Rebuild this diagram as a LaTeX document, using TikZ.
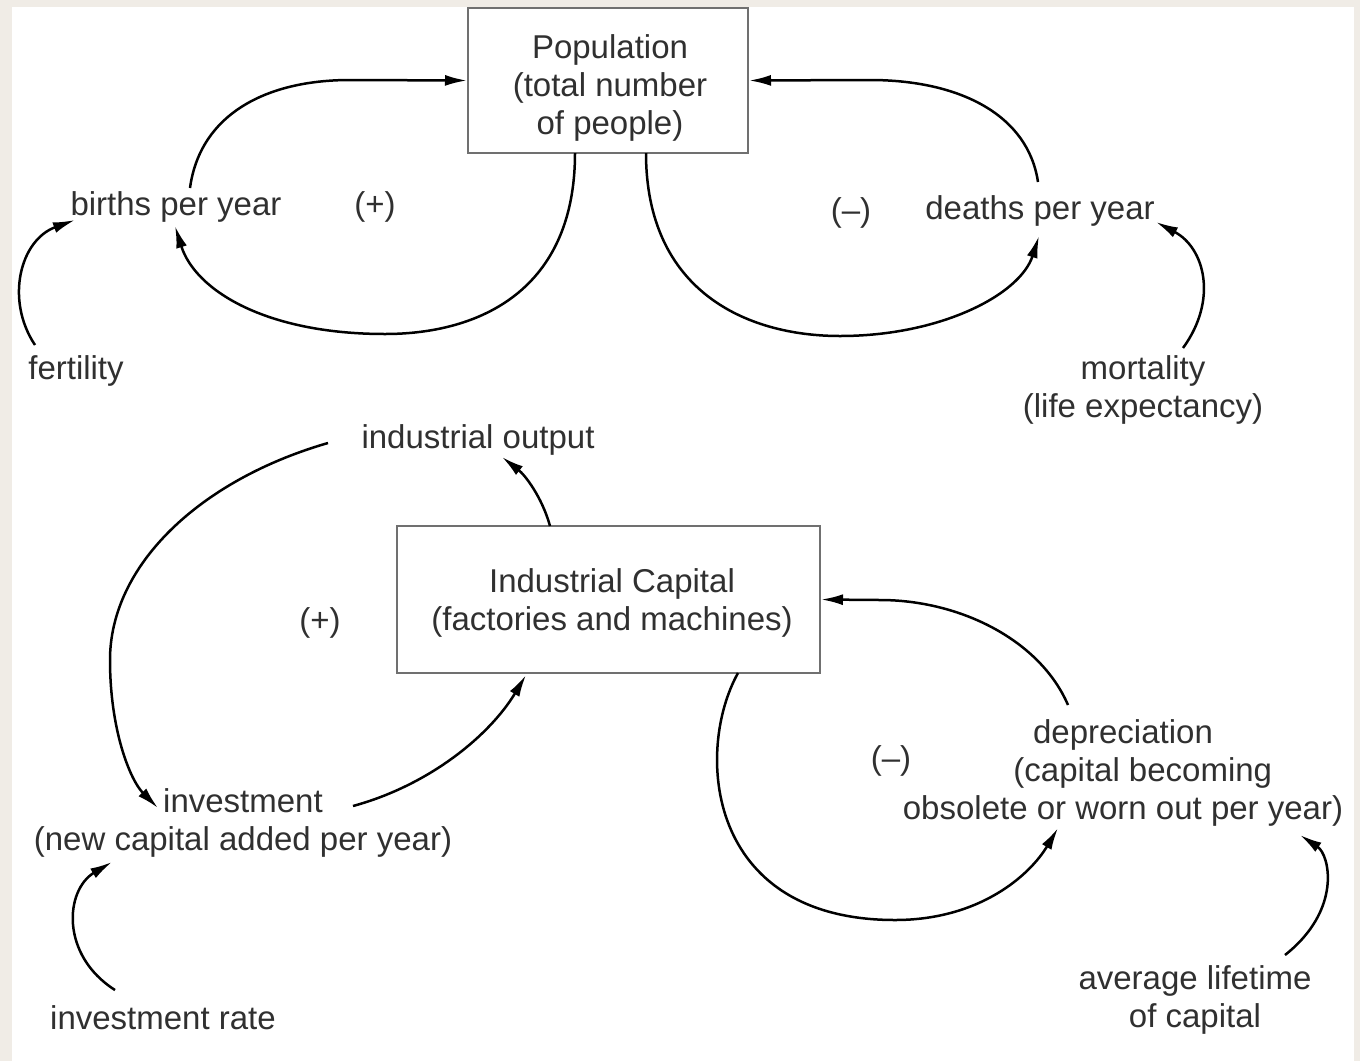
\documentclass[tikz,border=0pt]{standalone}
\usepackage{fontspec}
\setmainfont{Liberation Sans}
\usetikzlibrary{arrows.meta}
\definecolor{beige}{HTML}{F0ECE6}
\definecolor{txt}{HTML}{303030}
\definecolor{boxc}{HTML}{707070}
\begin{document}
\begin{tikzpicture}[x=0.5pt,y=-0.5pt,
  lbl/.style={inner sep=0pt,text=txt,font=\fontsize{16.5}{19}\selectfont,align=center},
  stock/.style={draw=boxc,line width=1pt,fill=white,inner sep=0pt},
  link/.style={line width=1.25pt,-{Latex[length=11pt,width=5.5pt]}}]
\fill[beige] (0,0) rectangle (1360,1061);
\fill[white] (12,7) rectangle (1354,1061);
\useasboundingbox (0,0) rectangle (1360,1061);
% stocks
\node[stock,minimum width=140pt,minimum height=72.5pt] (pop) at (608,80.5) {};
\node[lbl] (popt) at (610,88) {Population\\(total number\\of people)};
\node[stock,minimum width=211.5pt,minimum height=73.5pt] (cap) at (608.5,599.5) {};
\node[lbl] (capt) at (612,603) {Industrial Capital\\(factories and machines)};
% labels
\node[lbl] (births) at (176,207) {births per year};
\node[lbl] (lp1) at (375,207) {(+)};
\node[lbl] (lm1) at (851,213) {(–)};
\node[lbl] (deaths) at (1040,211) {deaths per year};
\node[lbl] (fert) at (76,371) {fertility};
\node[lbl] (mort) at (1143,390) {mortality\\(life expectancy)};
\node[lbl] (iout) at (478,440) {industrial output};
\node[lbl] (lp2) at (320,623) {(+)};
\node[lbl] (inv) at (243,823) {investment\\(new capital added per year)};
\node[lbl] (irate) at (163,1018) {investment rate};
\node[lbl] (lm2) at (891,761) {(–)};
\node[lbl] (dep) at (1123,773) {depreciation\\\hspace*{1.2em}(capital becoming\\obsolete or worn out per year)};
\node[lbl] (avg) at (1195,1000) {average lifetime\\of capital};
% connector end points
\coordinate (bA) at (190,188);
\coordinate (bB) at (175,226);
\coordinate (bC) at (75,220);
\coordinate (dA) at (1038,182);
\coordinate (dB) at (1039,236);
\coordinate (dC) at (1156,222);
\coordinate (fA) at (35,345);
\coordinate (mA) at (1183,348);
\coordinate (pS1) at (575,153);
\coordinate (pS2) at (646,153);
\coordinate (cN) at (550,526);
\coordinate (cS1) at (526,675);
\coordinate (cS2) at (738,673);
\coordinate (ioA) at (502,457);
\coordinate (ioB) at (328,443);
\coordinate (invA) at (158,808);
\coordinate (invB) at (353,806);
\coordinate (invC) at (112,862);
\coordinate (irA) at (115,990);
\coordinate (depA) at (1068,705);
\coordinate (depB) at (1058,828);
\coordinate (depC) at (1300,835);
\coordinate (avA) at (1285,955);
% population loops
\draw[link] (bA) .. controls (200,115) and (265,80) .. (350,80) -- (pop.west);
\draw[link] (pS1) .. controls (575,290) and (480,334) .. (385,334) .. controls (265,334) and (195,290) .. (bB);
\draw[link] (pS2) .. controls (646,290) and (745,336) .. (840,336) .. controls (940,336) and (1020,295) .. (dB);
\draw[link] (dA) .. controls (1028,115) and (960,80) .. (870,80) -- (pop.east);
\draw[link] (fA) .. controls (5,300) and (20,240) .. (bC);
\draw[link] (mA) .. controls (1218,300) and (1205,248) .. (dC);
% capital loops
\draw[link] (cN) .. controls (542,497) and (525,475) .. (ioA);
\draw[link] (ioB) .. controls (200,480) and (110,565) .. (110,660) .. controls (110,730) and (130,780) .. (invA);
\draw[link] (invB) .. controls (430,785) and (490,735) .. (cS1);
\draw[link] (irA) .. controls (60,955) and (65,890) .. (invC);
\draw[link] (depA) .. controls (1040,640) and (960,600) .. (880,600) -- (cap.east);
\draw[link] (cS2) .. controls (695,750) and (705,920) .. (895,920) .. controls (980,920) and (1030,875) .. (depB);
\draw[link] (avA) .. controls (1342,910) and (1330,855) .. (depC);
\end{tikzpicture}
\end{document}
